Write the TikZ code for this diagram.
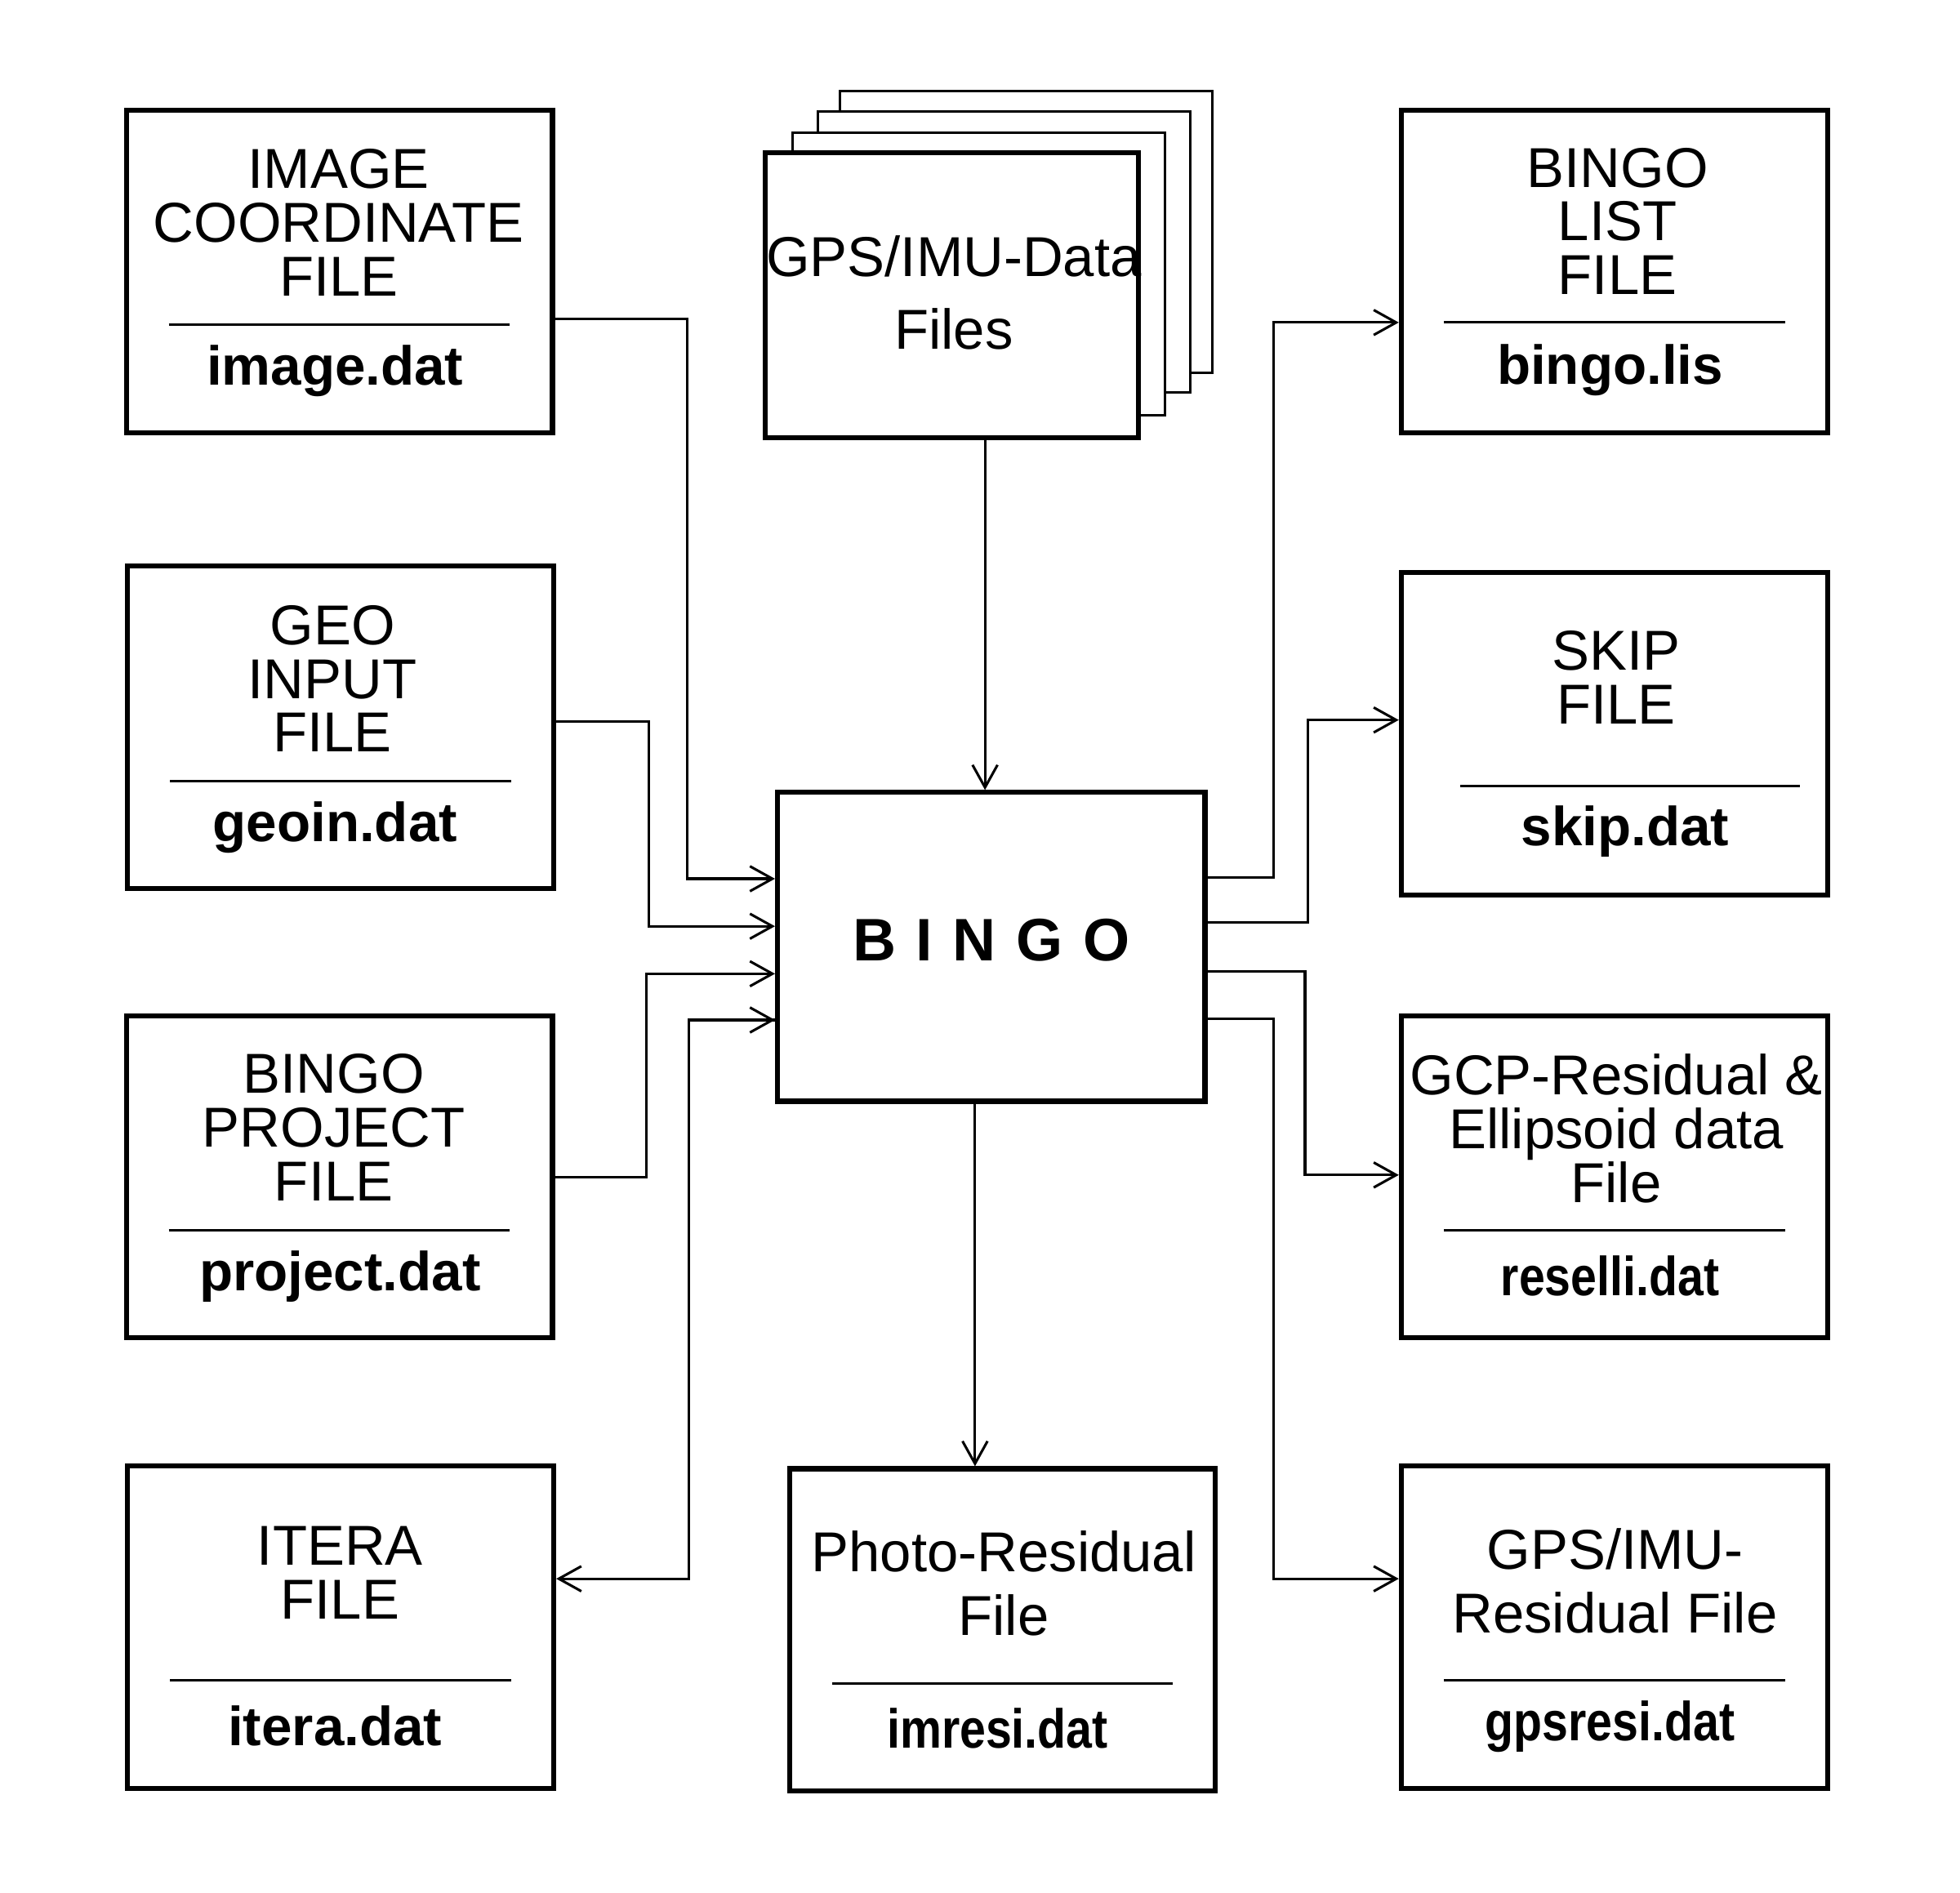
\documentclass[tikz,border=0pt]{standalone}
\usepackage{fontspec}
\setmainfont{Liberation Sans}
\usetikzlibrary{arrows.meta}
\begin{document}
\begin{tikzpicture}[x=1pt,y=-1pt,
  box/.style={draw,line width=4pt,rectangle,inner sep=0,fill=white},
  page/.style={draw,line width=2pt,fill=white},
  sep/.style={line width=2pt},
  conn/.style={line width=2pt,-{Straight Barb[length=18pt,width=20pt,line width=2pt]}},
  lbl/.style={align=center,font=\fontsize{45}{43}\selectfont,inner sep=0},
  fn/.style={font=\fontsize{44}{43}\selectfont\bfseries,inner sep=0}]
\useasboundingbox (0,0) rectangle (1568,1514);
% left boxes
\node[box,minimum width=341pt,minimum height=258pt] (img) at (271.5,217) {};
\node[lbl] (imgt) at (271,178) {IMAGE\\COORDINATE\\FILE};
\draw[sep] (135,260) -- (408,260);
\node[fn] (imgf) at (268,297) {image.dat};

\node[box,minimum width=341pt,minimum height=258pt] (geo) at (272.5,582) {};
\node[lbl] (geot) at (266,543) {GEO\\INPUT\\FILE};
\draw[sep] (136,625) -- (409,625);
\node[fn] (geof) at (268,662) {geoin.dat};

\node[box,minimum width=341pt,minimum height=257pt] (prj) at (271.5,941.5) {};
\node[lbl] (prjt) at (267,902) {BINGO\\PROJECT\\FILE};
\draw[sep] (135,984) -- (408,984);
\node[fn] (prjf) at (272,1021) {project.dat};

\node[box,minimum width=341pt,minimum height=258pt] (itr) at (272.5,1302) {};
\node[lbl] (itrt) at (272,1258) {ITERA\\FILE};
\draw[sep] (136,1344) -- (409,1344);
\node[fn] (itrf) at (268,1381) {itera.dat};

% GPS stack
\draw[page] (672,73) rectangle (970,298);
\draw[page] (654,89) rectangle (952,314);
\draw[page] (634,106) rectangle (932,332);
\node[box,minimum width=299pt,minimum height=228pt] (gps) at (761.5,236) {};
\node[lbl] (gpst) at (763,234) {GPS/IMU-Data\\[15pt]Files};

% center
\node[box,minimum width=342pt,minimum height=247pt] (bingo) at (793,757.5) {};
\node[inner sep=0,font=\fontsize{48}{48}\selectfont\bfseries] (bt) at (793,752) {B\,\,I\,\,N\,\,G\,\,O};

% right boxes
\node[box,minimum width=341pt,minimum height=258pt] (lis) at (1291.5,217) {};
\node[lbl] (list) at (1294,177) {BINGO\\LIST\\FILE};
\draw[sep] (1155,258) -- (1428,258);
\node[fn] (lisf) at (1288,296) {bingo.lis};

\node[box,minimum width=341pt,minimum height=258pt] (skp) at (1291.5,587) {};
\node[lbl] (skpt) at (1293,542) {SKIP\\FILE};
\draw[sep] (1168,629) -- (1440,629);
\node[fn] (skpf) at (1300,665) {skip.dat};

\node[box,minimum width=341pt,minimum height=257pt] (gcp) at (1291.5,941.5) {};
\node[lbl] (gcpt) at (1293,903) {GCP-Residual \&\\Ellipsoid data\\File};
\draw[sep] (1155,984) -- (1428,984);
\node[fn] (gcpf) at (1288,1021) {\scalebox{0.85}[1]{reselli.dat}};

\node[box,minimum width=341pt,minimum height=258pt] (gpr) at (1291.5,1302) {};
\node[lbl] (gprt) at (1292,1265) {GPS/IMU-\\[8pt]Residual File};
\draw[sep] (1155,1344) -- (1428,1344);
\node[fn] (gprf) at (1288,1381) {\scalebox{0.85}[1]{gpsresi.dat}};

\node[box,minimum width=340pt,minimum height=258pt] (pho) at (802,1304) {};
\node[lbl] (phot) at (803,1267) {Photo-Residual\\[8pt]File};
\draw[sep] (666,1347) -- (938,1347);
\node[fn] (phof) at (798,1383) {\scalebox{0.85}[1]{imresi.dat}};

% connectors
\draw[conn] (img.east |- 0,255) -- (550,255) -- (550,703) -- (bingo.west |- 0,703);
\draw[conn] (geo.east |- 0,577) -- (519,577) -- (519,741) -- (bingo.west |- 0,741);
\draw[conn] (prj.east |- 0,942) -- (517,942) -- (517,779) -- (bingo.west |- 0,779);
\draw[conn] (bingo.west |- 0,816) ++(-40,0) -- (bingo.west |- 0,816);
\draw[conn] (bingo.west |- 0,816) -- (551,816) -- (551,1263) -- (itr.east |- 0,1263);
\draw[conn] (gps.south -| 788,0) -- (bingo.north -| 788,0);
\draw[conn] (bingo.south -| 780,0) -- (pho.north -| 780,0);
\draw[conn] (bingo.east |- 0,702) -- (1019,702) -- (1019,258) -- (lis.west |- 0,258);
\draw[conn] (bingo.east |- 0,738) -- (1046,738) -- (1046,576) -- (skp.west |- 0,576);
\draw[conn] (bingo.east |- 0,777) -- (1044,777) -- (1044,940) -- (gcp.west |- 0,940);
\draw[conn] (bingo.east |- 0,815) -- (1019,815) -- (1019,1263) -- (gpr.west |- 0,1263);
\end{tikzpicture}
\end{document}
